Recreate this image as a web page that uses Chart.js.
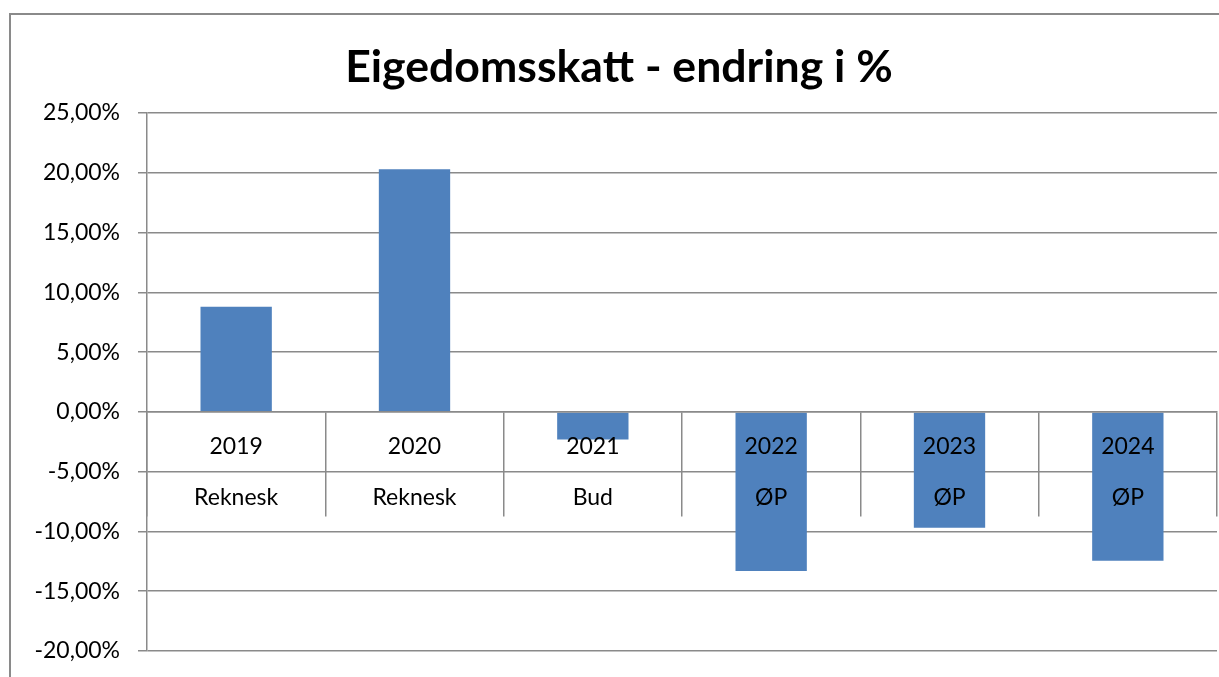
<!DOCTYPE html>
<html>
<head>
<meta charset="utf-8">
<script src="https://cdn.jsdelivr.net/npm/chart.js@4/dist/chart.umd.min.js"></script>
<style>
    body { margin: 0; background: #fff; overflow: hidden; }
    #ramme { position: absolute; left: 9px; top: 13px; width: 1400px; height: 900px; border: 2px solid #8a8a8a; }
    #grafico { position: absolute; left: 0; top: 0; }
</style>
</head>
<body>
<div id="ramme"></div>
<canvas id="grafico" width="1219" height="677"></canvas>
<script>
// Data
var aar = ['2019', '2020', '2021', '2022', '2023', '2024'];
var type = ['Reknesk', 'Reknesk', 'Bud', 'ØP', 'ØP', 'ØP'];
var endring = [8.8, 20.3, -2.3, -13.3, -9.7, -12.45];
var yMin = -20;
var yMax = 25;
var ySteg = 5;

var labels = aar.map((a, i) => [a, type[i]]);
var grå = '#8a8a8a';

var grafico = new Chart(document.getElementById('grafico'), {
    type: 'bar',
    data: {
        labels: labels,
        datasets: [{
            label: 'Eigedomsskatt',
            data: endring,
            backgroundColor: '#4f81bd',
            barPercentage: 0.4,
            categoryPercentage: 1.0
        }]
    },
    options: {
        responsive: false,
        animation: false,
        devicePixelRatio: 1,
        layout: { padding: { left: 21, right: 2, top: 0, bottom: 26 } },
        plugins: {
            legend: { display: false },
            tooltip: { enabled: false },
            title: {
                display: true,
                text: 'Eigedomsskatt - endring i %',
                color: '#000',
                font: { family: 'Lato', size: 44.6, weight: 'bold', lineHeight: 1.2 },
                padding: { top: 41, bottom: 18.5 }
            }
        },
        scales: {
            x: {
                position: { y: 0 },
                offset: true,
                // x-aksen ligg på nulllinja, skal ikkje ta plass nedst
                afterFit: function(scale) { scale.height = 0; },
                grid: {
                    offset: true,
                    drawOnChartArea: false,
                    drawTicks: true,
                    tickLength: 104,
                    color: grå,
                    lineWidth: 1.5
                },
                // tekst og nullinje over søylene
                border: { color: grå, width: 1.5, z: 1 },
                ticks: {
                    z: 1,
                    color: '#000',
                    font: { family: 'Lato', size: 23, lineHeight: '51px' },
                    padding: -94.5,
                    maxRotation: 0,
                    autoSkip: false
                }
            },
            y: {
                min: yMin,
                max: yMax,
                afterFit: function(scale) {
                    scale.width = 126;
                    scale.paddingTop = 0;
                    scale.paddingBottom = 0;
                },
                grid: { color: grå, lineWidth: 1.5, tickLength: 9 },
                border: { color: grå, width: 1.5 },
                ticks: {
                    stepSize: ySteg,
                    color: '#000',
                    padding: 18,
                    font: { family: 'Lato', size: 23 },
                    callback: v => v.toFixed(2).replace('.', ',') + '%'
                }
            }
        }
    }
});
</script>
</body>
</html>
